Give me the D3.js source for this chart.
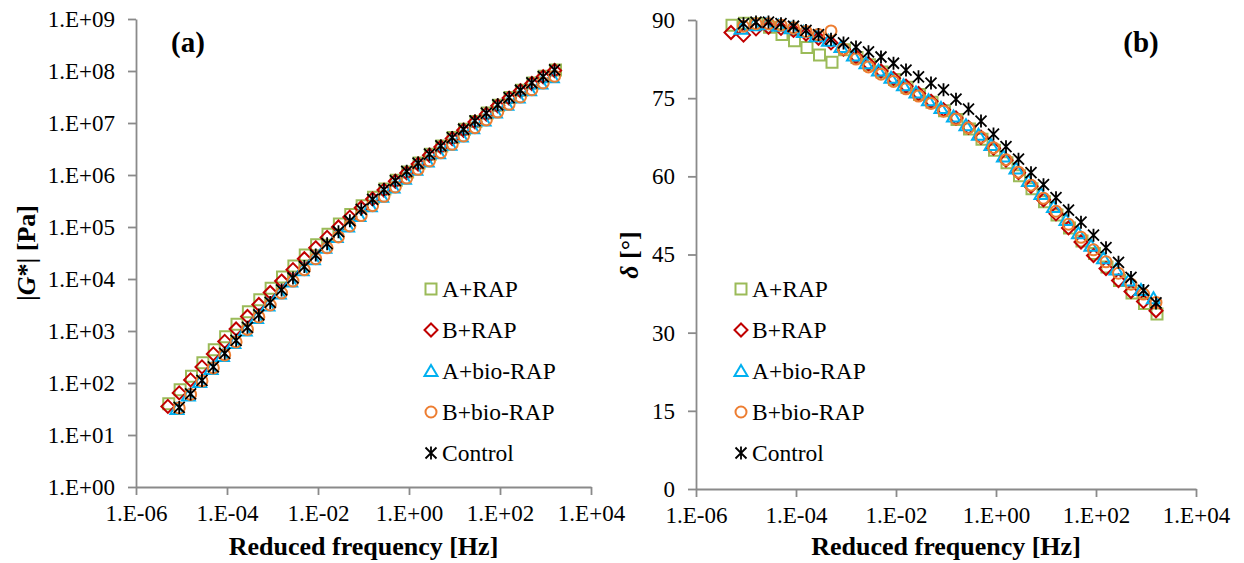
<!DOCTYPE html>
<meta charset="utf-8">
<script src="https://d3js.org/d3.v7.min.js"></script>
<div id="chart"></div>
<script>
// --- data (frequencies as log10 of Hz, |G*| as log10 of Pa, delta in degrees)
var seriesNames = ["A+RAP", "B+RAP", "A+bio-RAP", "B+bio-RAP", "Control"];

var aRapLogF = [-5.28,-5.03,-4.78,-4.53,-4.28,-4.03,-3.78,-3.53,-3.28,-3.03,-2.78,-2.53,-2.28,-2.03,-1.78,-1.53,-1.28,-1.03,-0.78,-0.53,-0.28,-0.03,0.22,0.47,0.72,0.97,1.22,1.47,1.72,1.97,2.22,2.47,2.72,2.97,3.22];
var aRapLogG = [1.60,1.87,2.13,2.39,2.64,2.89,3.13,3.37,3.60,3.82,4.04,4.25,4.46,4.66,4.86,5.06,5.24,5.41,5.57,5.73,5.90,6.06,6.23,6.40,6.56,6.72,6.88,7.03,7.19,7.34,7.49,7.63,7.77,7.90,8.02];
var aRapDelta = [89.0,89.4,89.3,88.6,87.2,86.0,84.7,83.3,81.9,84.3,82.8,81.4,80.0,78.6,77.1,75.7,74.2,72.6,70.9,69.1,67.1,65.0,62.6,60.1,57.6,55.1,52.6,50.1,47.6,45.2,42.6,40.0,37.6,35.6,33.6];

var bRapLogF = [-5.3,-5.05,-4.8,-4.55,-4.3,-4.05,-3.8,-3.55,-3.3,-3.05,-2.8,-2.55,-2.3,-2.05,-1.8,-1.55,-1.3,-1.05,-0.8,-0.55,-0.3,-0.05,0.2,0.45,0.7,0.95,1.2,1.45,1.7,1.95,2.2,2.45,2.7,2.95,3.2];
var bRapLogG = [1.55,1.81,2.06,2.31,2.56,2.80,3.04,3.28,3.51,3.74,3.96,4.18,4.39,4.60,4.80,5.00,5.19,5.37,5.54,5.71,5.88,6.04,6.21,6.38,6.54,6.70,6.86,7.02,7.17,7.33,7.48,7.62,7.76,7.89,8.01];
var bRapDelta = [87.6,87.1,88.3,88.6,88.4,88.0,87.3,86.5,85.6,84.4,83.0,81.6,80.2,78.8,77.3,75.9,74.4,72.8,71.2,69.4,67.5,65.4,63.1,60.7,58.1,55.5,52.8,50.1,47.4,44.8,42.3,40.0,37.9,36.0,34.2];

var aBioLogF = [-5.1,-4.85,-4.6,-4.35,-4.1,-3.85,-3.6,-3.35,-3.1,-2.85,-2.6,-2.35,-2.1,-1.85,-1.6,-1.35,-1.1,-0.85,-0.6,-0.35,-0.1,0.15,0.4,0.65,0.9,1.15,1.4,1.65,1.9,2.15,2.4,2.65,2.9,3.15];
var aBioLogG = [1.50,1.76,2.02,2.27,2.52,2.77,3.01,3.25,3.49,3.72,3.95,4.17,4.38,4.60,4.81,5.01,5.21,5.40,5.58,5.76,5.93,6.10,6.26,6.42,6.58,6.74,6.90,7.05,7.20,7.35,7.49,7.63,7.76,7.88];
var aBioDelta = [88.3,89.0,89.2,88.9,88.4,87.7,86.9,86.0,84.8,83.2,81.7,80.3,78.9,77.5,76.1,74.6,73.1,71.5,69.8,68.0,66.0,63.8,61.5,59.1,56.6,54.1,51.6,49.1,46.7,44.3,42.1,40.0,38.2,36.6];

var bBioLogF = [-5.05,-4.8,-4.55,-4.3,-4.05,-3.8,-3.55,-3.3,-3.05,-2.8,-2.55,-2.3,-2.05,-1.8,-1.55,-1.3,-1.05,-0.8,-0.55,-0.3,-0.05,0.2,0.45,0.7,0.95,1.2,1.45,1.7,1.95,2.2,2.45,2.7,2.95,3.2];
var bBioLogG = [1.52,1.78,2.04,2.29,2.54,2.79,3.03,3.27,3.50,3.73,3.96,4.18,4.39,4.60,4.81,5.02,5.22,5.41,5.59,5.77,5.94,6.11,6.27,6.43,6.59,6.75,6.91,7.06,7.21,7.36,7.50,7.64,7.77,7.90];
var bBioDelta = [88.8,89.3,89.3,89.0,88.5,87.8,87.2,87.9,84.4,82.5,81.0,79.6,78.2,76.8,75.4,74.0,72.5,71.0,69.3,67.5,65.5,63.2,60.8,58.3,55.8,53.3,50.8,48.3,45.9,43.6,41.4,39.3,37.4,35.8];

var controlLogF = [-5.05,-4.8,-4.55,-4.3,-4.05,-3.8,-3.55,-3.3,-3.05,-2.8,-2.55,-2.3,-2.05,-1.8,-1.55,-1.3,-1.05,-0.8,-0.55,-0.3,-0.05,0.2,0.45,0.7,0.95,1.2,1.45,1.7,1.95,2.2,2.45,2.7,2.95,3.2];
var controlLogG = [1.53,1.79,2.05,2.31,2.57,2.82,3.07,3.31,3.55,3.79,4.02,4.24,4.46,4.68,4.91,5.12,5.34,5.53,5.72,5.89,6.07,6.23,6.40,6.56,6.72,6.88,7.04,7.19,7.35,7.49,7.63,7.77,7.89,8.02];
var controlDelta = [89.3,89.6,89.6,89.3,88.8,88.0,87.2,86.3,85.6,84.8,83.9,82.9,81.7,80.4,79.1,77.9,76.6,74.8,72.9,70.6,68.1,65.7,63.3,60.7,58.4,55.9,53.5,51.2,48.7,46.3,43.5,40.6,38.1,35.7];

// tick values
var freqTicks = [1e-6, 1e-4, 1e-2, 1e0, 1e2, 1e4];
var modulusTicks = [1e0, 1e1, 1e2, 1e3, 1e4, 1e5, 1e6, 1e7, 1e8, 1e9];
var phaseTicks = [0, 15, 30, 45, 60, 75, 90];

// --- styling
var serif = "Liberation Serif";
var colors = ["#9BBB59", "#C00000", "#00B0F0", "#ED7D31", "#000000"];
var shapes = {
  square: "M-5.5,-5.5H5.5V5.5H-5.5Z",
  diamond: "M0,-6.5L6.5,0L0,6.5L-6.5,0Z",
  triangle: "M0,-6L6.5,5H-6.5Z",
  circle: "M5.5,0A5.5,5.5 0 1,1 -5.5,0A5.5,5.5 0 1,1 5.5,0Z",
  star: "M-5.5,-5.5L5.5,5.5M-5.5,5.5L5.5,-5.5M0,-6.5V6.5"
};
var shapeOrder = ["square", "diamond", "triangle", "circle", "star"];

var series = [
  {f: aRapLogF, g: aRapLogG, d: aRapDelta},
  {f: bRapLogF, g: bRapLogG, d: bRapDelta},
  {f: aBioLogF, g: aBioLogG, d: aBioDelta},
  {f: bBioLogF, g: bBioLogG, d: bBioDelta},
  {f: controlLogF, g: controlLogG, d: controlDelta}
].map(function(s, i) {
  return {
    name: seriesNames[i],
    color: colors[i],
    shape: shapeOrder[i],
    points: s.f.map(function(lf, j) {
      return {freq: Math.pow(10, lf), g: Math.pow(10, s.g[j]), delta: s.d[j]};
    })
  };
});

d3.select("body").style("margin", "0").style("background", "#fff");

var svg = d3.select("#chart").append("svg")
  .attr("width", 1244)
  .attr("height", 563)
  .attr("font-family", serif);

// Excel-like "1.E+04" labels
function expFormat(v) {
  var e = Math.round(Math.log10(v));
  var s = String(Math.abs(e)).padStart(2, "0");
  return "1.E" + (e < 0 ? "-" : "+") + s;
}

function styleAxis(g) {
  g.attr("font-family", serif);
  g.select(".domain").attr("stroke", "#8a8a8a").attr("stroke-width", 1.8);
  g.selectAll(".tick line").attr("stroke", "#8a8a8a").attr("stroke-width", 1.8);
  g.selectAll(".tick text")
    .style("font-family", serif)
    .style("font-size", "23px")
    .attr("fill", "#000");
}

// --- panel (a)
var xA = d3.scaleLog().domain([1e-6, 1e4]).range([136, 591]);
var yA = d3.scaleLog().domain([1e0, 1e9]).range([487, 19]);

// --- panel (b)
var xB = d3.scaleLog().domain([1e-6, 1e4]).range([696, 1196]);
var yB = d3.scaleLinear().domain([0, 90]).range([489, 20]);

function drawPanel(x, y, yTicks, yFormat, valueKey, label, labelX) {
  svg.append("g")
    .attr("transform", "translate(0," + y.range()[0] + ")")
    .call(d3.axisBottom(x).tickValues(freqTicks).tickFormat(expFormat)
      .tickSizeInner(8).tickSizeOuter(0).tickPadding(10))
    .call(styleAxis);

  svg.append("g")
    .attr("transform", "translate(" + x.range()[0] + ",0)")
    .call(d3.axisLeft(y).tickValues(yTicks).tickFormat(yFormat)
      .tickSizeInner(8).tickSizeOuter(0).tickPadding(13))
    .call(styleAxis);

  series.forEach(function(s) {
    svg.append("g")
      .selectAll("path")
      .data(s.points)
      .enter().append("path")
        .attr("d", shapes[s.shape])
        .attr("transform", function(p) { return "translate(" + x(p.freq) + "," + y(p[valueKey]) + ")"; })
        .attr("fill", "none")
        .attr("stroke", s.color)
        .attr("stroke-width", s.shape == "star" ? 1.8 : 2);
  });

  svg.append("text")
    .attr("x", labelX)
    .attr("y", 52)
    .attr("text-anchor", "middle")
    .style("font-family", serif)
    .style("font-size", "29px")
    .style("font-weight", "bold")
    .text(label);

  // x title
  svg.append("text")
    .attr("x", (x.range()[0] + x.range()[1]) / 2)
    .attr("y", 555)
    .attr("text-anchor", "middle")
    .style("font-family", serif)
    .style("font-size", "26px")
    .style("font-weight", "bold")
    .text("Reduced frequency [Hz]");
}

drawPanel(xA, yA, modulusTicks, expFormat, "g", "(a)", 188);
drawPanel(xB, yB, phaseTicks, d3.format("d"), "delta", "(b)", 1141);

// y titles
var tA = svg.append("text")
  .attr("transform", "translate(35,253) rotate(-90)")
  .attr("text-anchor", "middle")
  .style("font-family", serif)
  .style("font-size", "26px")
  .style("font-weight", "bold");
tA.append("tspan").text("|");
tA.append("tspan").style("font-style", "italic").text("G");
tA.append("tspan").text("*| [Pa]");

var tB = svg.append("text")
  .attr("transform", "translate(638,255) rotate(-90)")
  .attr("text-anchor", "middle")
  .style("font-family", serif)
  .style("font-size", "26px")
  .style("font-weight", "bold");
tB.append("tspan").style("font-style", "italic").text("δ");
tB.append("tspan").text(" [°]");

// legends
function drawLegend(markerX) {
  var lg = svg.append("g");
  series.forEach(function(s, i) {
    var cy = 289 + i * 41;
    lg.append("path")
      .attr("d", shapes[s.shape])
      .attr("transform", "translate(" + markerX + "," + cy + ")")
      .attr("fill", "none")
      .attr("stroke", s.color)
      .attr("stroke-width", s.shape == "star" ? 1.8 : 2);
    lg.append("text")
      .attr("x", markerX + 11)
      .attr("y", cy + 8)
      .style("font-family", serif)
      .style("font-size", "23.5px")
      .text(s.name);
  });
}
drawLegend(431);
drawLegend(741);
</script>
